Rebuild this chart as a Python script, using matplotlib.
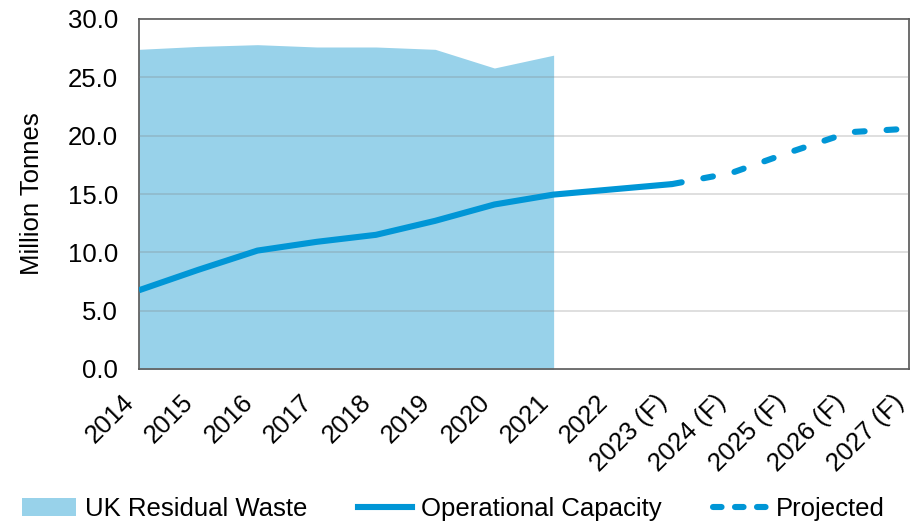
import numpy as np
import matplotlib
matplotlib.use('Agg')
import matplotlib.pyplot as plt
import matplotlib.transforms as mtransforms
from matplotlib.patches import Patch
from matplotlib.lines import Line2D

plt.rcParams['font.family'] = ['Liberation Sans', 'DejaVu Sans']

# data
years = ['2014', '2015', '2016', '2017', '2018', '2019', '2020', '2021', '2022',
         '2023 (F)', '2024 (F)', '2025 (F)', '2026 (F)', '2027 (F)']
waste = [27.4, 27.65, 27.8, 27.6, 27.6, 27.4, 25.8, 26.9]   # 2014-2021
capacity = [6.75, 8.5, 10.15, 10.9, 11.5, 12.7, 14.1, 14.95, 15.4, 15.85]  # 2014-2023
projected = [15.85, 16.8, 18.6, 20.3, 20.6]  # 2023-2027

fill_col = '#98d2ea'
line_col = '#0096d6'
fs = 18.5

fig = plt.figure(figsize=(9.16, 5.26), dpi=100)
ax = fig.add_axes([139/916, 1-369/526, (909-139)/916, (369-19)/526])

x = np.arange(len(years))
ax.fill_between(x[:len(waste)], 0, waste, color=fill_col, lw=0, zorder=1)
ax.plot(x[:len(capacity)], capacity, color=line_col, lw=4.4,
        solid_capstyle='butt', zorder=3)
ax.plot(x[9:9+len(projected)], projected, color=line_col, lw=4.4,
        dashes=(1.6, 3.6), dash_capstyle='round', zorder=3)

ax.set_xlim(0, len(years)-1)
ax.set_ylim(0, 30)
ax.set_yticks(np.arange(0, 30.1, 5))
ax.set_yticklabels(['%.1f' % v for v in np.arange(0, 30.1, 5)], fontsize=fs)
ax.set_xticks(x)
ax.set_xticklabels(years, rotation=45, ha='right', fontsize=fs)
off = mtransforms.ScaledTranslation(5/100, 0, fig.dpi_scale_trans)
for lab in ax.get_xticklabels():
    lab.set_transform(lab.get_transform() + off)

ax.tick_params(axis='x', length=0, pad=15)
ax.tick_params(axis='y', length=0, pad=15)
ax.set_axisbelow(False)
ax.grid(axis='y', color='#808080', alpha=0.3, lw=1.2)
for s in ax.spines.values():
    s.set_color('#555555')
    s.set_linewidth(1.2)

ax.set_ylabel('Million Tonnes', fontsize=fs, labelpad=17)

handles = [Patch(color=fill_col, lw=0),
           Line2D([], [], color=line_col, lw=4.4),
           Line2D([], [], color=line_col, lw=4.4, dashes=(1.4, 2.2), dash_capstyle='round')]
fig.legend(handles, ['UK Residual Waste', 'Operational Capacity', 'Projected'],
           loc='lower center', bbox_to_anchor=(0.495, -0.035), ncol=3, frameon=False,
           fontsize=fs, handlelength=2.1, handletextpad=0.35, columnspacing=2.0)

fig.savefig('out.png', dpi=100)
